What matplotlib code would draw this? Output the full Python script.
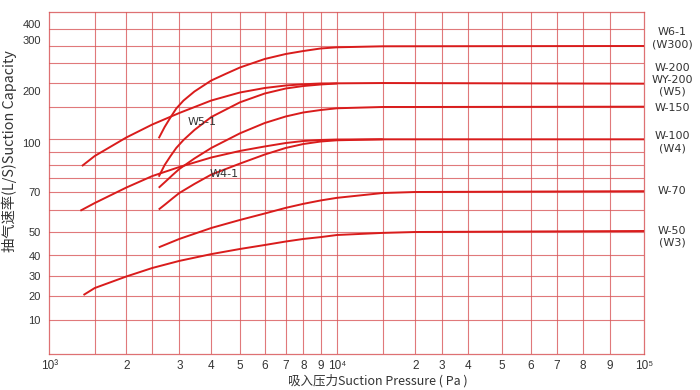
import numpy as np
import matplotlib
matplotlib.use("Agg")
import matplotlib.pyplot as plt

plt.rcParams['font.family'] = ['DejaVu Sans']

# ---------------- data ----------------
x_w61 = [2611, 2717, 2828, 2939, 3116, 3437, 4000, 4500, 5000, 6000, 7000, 8000, 9000, 10000, 15000, 100000]
y_w61 = [108.6, 130.5, 149.4, 166.5, 182.0, 199.6, 221.3, 235.0, 246.9, 263.6, 273.4, 279.3, 284.3, 286.6, 288.6, 289.2]

x_w200 = [1338, 1500, 2000, 2500, 3000, 4000, 5000, 6000, 7000, 8000, 9000, 10000, 15000, 100000]
y_w200 = [85.8, 91.9, 110.1, 135.4, 157.8, 182.1, 197.7, 206.5, 211.4, 213.8, 215.4, 215.7, 216.3, 215.0]

x_w51 = [2611, 2717, 2828, 2939, 3116, 3437, 4000, 5000, 6000, 7000, 8000, 9000, 10000]
y_w51 = [79.3, 86.4, 91.9, 96.8, 105.3, 124.7, 150.0, 178.6, 195.7, 205.5, 210.4, 213.4, 215.4]

x_w150 = [2611, 2735, 2865, 3000, 3437, 4000, 5000, 6000, 7000, 8000, 9000, 10000, 15000, 20000, 100000]
y_w150 = [72.6, 76.4, 80.3, 84.0, 90.4, 96.8, 118.3, 138.3, 151.0, 158.8, 163.6, 167.0, 169.5, 169.5, 170.1]

x_w100 = [1320, 1500, 2000, 2500, 3000, 4000, 5000, 6000, 7000, 8000, 9000, 10000, 15000, 100000]
y_w100 = [60.7, 64.5, 72.7, 79.7, 85.2, 91.0, 95.0, 97.7, 99.8, 103.3, 105.3, 106.2, 106.6, 106.6]

x_w41 = [2611, 2735, 2865, 3000, 3437, 4000, 5000, 6000, 7000, 8000, 9000, 10000, 15000]
y_w41 = [61.3, 64.0, 66.8, 69.5, 74.9, 80.6, 87.3, 92.8, 96.8, 99.2, 102.3, 104.7, 106.6]

x_w70 = [2611, 3000, 4000, 5000, 6000, 7000, 8000, 9000, 10000, 15000, 20000, 100000]
y_w70 = [43.5, 47.1, 52.1, 56.1, 59.3, 62.1, 64.1, 65.8, 67.1, 69.5, 70.0, 70.5]

x_w50 = [1357, 1500, 2000, 2500, 3000, 4000, 5000, 6000, 7000, 8000, 9000, 10000, 15000, 20000, 100000]
y_w50 = [20.6, 24.1, 29.9, 34.0, 37.4, 40.6, 42.8, 44.5, 46.0, 47.1, 47.9, 48.8, 49.7, 50.1, 50.6]

series = [(x_w61, y_w61), (x_w200, y_w200), (x_w51, y_w51), (x_w150, y_w150),
          (x_w100, y_w100), (x_w41, y_w41), (x_w70, y_w70), (x_w50, y_w50)]

x_tick_vals = [1000, 2000, 3000, 4000, 5000, 6000, 7000, 8000, 9000,
               10000, 20000, 30000, 40000, 50000, 60000, 70000, 80000, 90000, 100000]
x_tick_labels = ['10\u00b3', '2', '3', '4', '5', '6', '7', '8', '9', '10\u2074',
                 '2', '3', '4', '5', '6', '7', '8', '9', '10\u2075']
x_grid_vals = [1500, 2000, 2500, 3000, 4000, 5000, 6000, 7000, 8000, 9000, 10000,
               15000, 20000, 30000, 40000, 50000, 60000, 70000, 80000, 90000]

y_tick_vals = [10, 20, 30, 40, 50, 70, 100, 200, 300, 400]
y_grid_vals = [10, 20, 30, 40, 50, 60.9, 70, 78.3, 86.6, 94.3, 106.6, 169.5,
               216.3, 255.7, 288.6, 366.7]

right_labels = ["W6-1\n(W300)", "W-200\nWY-200\n(W5)", "W-150", "W-100\n(W4)", "W-70", "W-50\n(W3)"]
curve_labels = ["W5-1", "W4-1"]

# ---------------- the chart's own (hand drawn) axis scales ----------------
xs_anchor_v = np.log10([1000, 1500, 2000, 2500, 3000, 4000, 5000, 6000, 7000, 8000, 9000, 10000,
                        15000, 20000, 30000, 40000, 50000, 60000, 70000, 80000, 90000, 100000])
xs_anchor_p = np.array([49.3, 94.7, 126.3, 152.3, 179.3, 211.3, 240, 264.7, 285.7, 303.3, 320.7, 337,
                        382.7, 415.3, 442, 468.3, 501.7, 530.7, 556.7, 583, 609.7, 644.3])

def xf(v):
    v = np.asarray(v, dtype=float)
    return np.interp(np.log10(np.clip(v, 1e-9, None)), xs_anchor_v, xs_anchor_p)

def xi(p):
    p = np.asarray(p, dtype=float)
    return 10 ** np.interp(p, xs_anchor_p, xs_anchor_v)

ys_anchor_v = np.array([0, 10, 20, 30, 40, 50, 70, 100, 200, 300, 400, 470])
ys_anchor_p = 354.3 - np.array([354.3, 319.8, 296.2, 276.3, 255.5, 232.2, 192, 142.7, 91.3, 40.5, 23.7, 12])

def yf(v):
    return np.interp(np.asarray(v, dtype=float), ys_anchor_v, ys_anchor_p)

def yi(p):
    return np.interp(np.asarray(p, dtype=float), ys_anchor_p, ys_anchor_v)

# ---------------- figure ----------------
W, H = 700, 390
fig = plt.figure(figsize=(W / 100, H / 100), dpi=100)
ax = fig.add_axes([49.3 / W, (H - 354.3) / H, (644.3 - 49.3) / W, (354.3 - 12) / H])
ax.set_xscale('function', functions=(xf, xi))
ax.set_yscale('function', functions=(yf, yi))
ax.set_xlim(1000, 100000)
ax.set_ylim(0, 470)

grid_col = '#d9585a'
curve_col = '#d91c1c'
text_col = '#333333'

ax.set_xticks(x_tick_vals)
ax.set_xticklabels(x_tick_labels, family=['Liberation Sans', 'DejaVu Sans'])
ax.set_yticks(y_tick_vals)
ax.set_yticklabels([str(v) for v in y_tick_vals], family=['Liberation Sans', 'DejaVu Sans'])
ax.minorticks_off()
ax.tick_params(which='both', length=0)
ax.tick_params(axis='x', pad=4, labelsize=8.5, colors=text_col)
ax.tick_params(axis='y', pad=6, labelsize=8, colors=text_col)

for gx in x_grid_vals:
    ax.axvline(gx, color=grid_col, linewidth=0.8, alpha=0.8, zorder=1)
for gy in y_grid_vals:
    ax.axhline(gy, color=grid_col, linewidth=0.8, alpha=0.8, zorder=1)
for s in ax.spines.values():
    s.set_color(grid_col)
    s.set_linewidth(0.9)
    s.set_alpha(0.85)

for xv, yv in series:
    ax.plot(xv, yv, color=curve_col, linewidth=1.4, solid_capstyle='butt',
            solid_joinstyle='round', zorder=3)

# right-hand labels
right_y = [0.924, 0.802, 0.719, 0.620, 0.477, 0.3436]
for lab, yy in zip(right_labels, right_y):
    fig.text(672 / W, (H - 354.3 + yy * 342.3) / H, lab, ha='center', va='center',
             fontsize=8, color=text_col, linespacing=1.25)

ax.text(0.2575, 0.678, curve_labels[0], transform=ax.transAxes, ha='center', va='center',
        fontsize=8, color=text_col)
ax.text(0.2936, 0.526, curve_labels[1], transform=ax.transAxes, ha='center', va='center',
        fontsize=8, color=text_col)

fig.text(378 / W, 1 - 381 / H, '吸入压力Suction Pressure ( Pa )', ha='center', va='center',
         fontsize=9, color=text_col, family=['Noto Sans CJK SC', 'DejaVu Sans'])
fig.text(9 / W, 1 - 151 / H, '抽气速率(L/S)Suction Capacity', ha='center', va='center',
         rotation=90, fontsize=10.3, color=text_col, family=['Noto Sans CJK SC', 'DejaVu Sans'])

fig.savefig('out.png', dpi=100)
